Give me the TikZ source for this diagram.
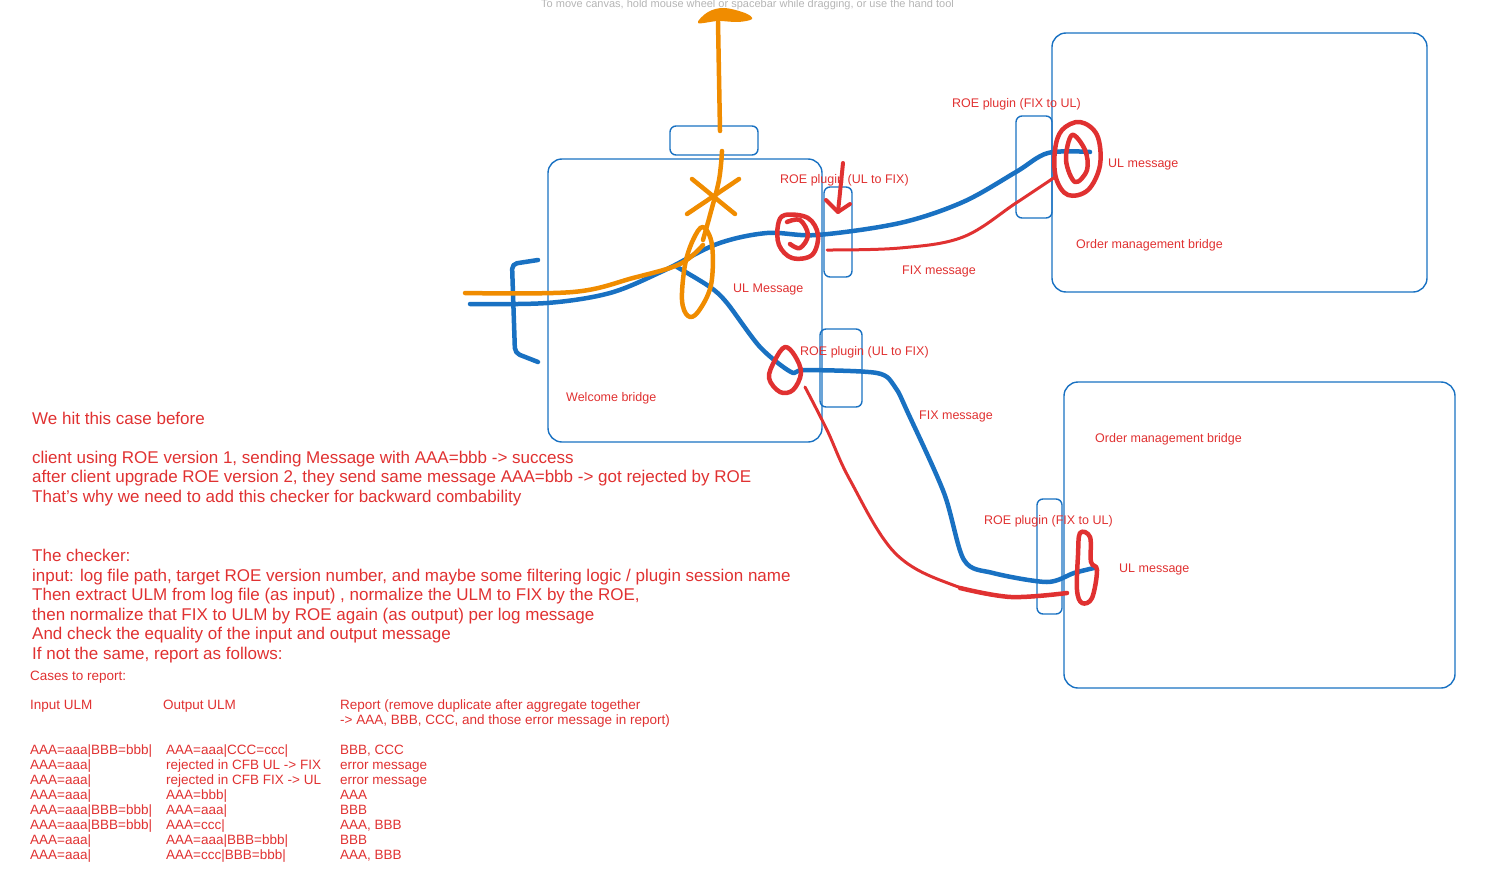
\documentclass[tikz,border=0pt]{standalone}
\usepackage{fontspec}
\setmainfont{Liberation Sans}
\definecolor{eblue}{HTML}{1971C2}
\definecolor{ered}{HTML}{E03131}
\definecolor{eorange}{HTML}{F08C00}
\definecolor{egrey}{HTML}{B5B5B5}
\begin{document}
\begin{tikzpicture}[x=1pt,y=-1pt,
  bigbox/.style={draw=eblue, line width=1.4pt, rounded corners=14pt, inner sep=0pt, outer sep=0pt},
  smallbox/.style={draw=eblue, line width=1.4pt, rounded corners=6pt, inner sep=0pt, outer sep=0pt},
  bstroke/.style={draw=eblue, line width=4.5pt, line cap=round, line join=round},
  ostroke/.style={draw=eorange, line width=4.5pt, line cap=round, line join=round},
  rstroke/.style={draw=ered, line width=4.5pt, line cap=round, line join=round},
  rthin/.style={draw=ered, line width=3pt, line cap=round, line join=round},
  lbl/.style={text=ered, font=\fontsize{12.5}{15}\selectfont, anchor=base west, inner sep=0pt},
  mtxt/.style={text=ered, font=\fontsize{17}{20}\selectfont, anchor=base west, inner sep=0pt},
  ttxt/.style={text=ered, font=\fontsize{13.5}{16}\selectfont, anchor=base west, inner sep=0pt}]
\useasboundingbox (0,0) rectangle (1503,872);

% hint text
\node[text=egrey, font=\fontsize{11}{13}\selectfont, anchor=base west, inner sep=0pt] (hint) at (541,8) {To move canvas, hold mouse wheel or spacebar while dragging, or use the hand tool};

% boxes
\node[bigbox, minimum width=274pt, minimum height=283pt] (wb) at (685,300.5) {};
\node[smallbox, minimum width=88pt, minimum height=29pt] (tb) at (714,140.5) {};
\node[smallbox, minimum width=28pt, minimum height=90pt] (p1) at (838,232) {};
\node[smallbox, minimum width=42pt, minimum height=78pt] (p2) at (841,368) {};
\node[bigbox, minimum width=375pt, minimum height=259pt] (omb1) at (1239.5,162.5) {};
\node[smallbox, minimum width=36pt, minimum height=102pt] (p3) at (1034,167) {};
\node[bigbox, minimum width=391pt, minimum height=306pt] (omb2) at (1259.5,535) {};
\node[smallbox, minimum width=25pt, minimum height=115pt] (p4) at (1049.5,556.5) {};

% blue bracket
\draw[bstroke, rounded corners=5pt] (538,260) -- (512,264) -- (515,353) -- (538,362);

% blue main line
\draw[bstroke] plot[smooth, tension=0.55] coordinates {(470,304) (547,303) (610,293) (663,271) (717,244) (767,233) (817,235) (900,223) (963,202) (1016,172) (1048,153) (1090,152)};
% blue branch
\draw[bstroke] plot[smooth, tension=0.5] coordinates {(677,267) (710,287) (727,303) (760,347) (791,372) (805,370) (877,373) (895,387) (908,413) (944,493) (964,560) (993,573) (1047,582) (1074,573) (1094,568)};

% red lines
\draw[rthin] plot[smooth, tension=0.6] coordinates {(827,250) (900,248) (963,237) (1016,203) (1055,177)};
\draw[rthin] plot[smooth, tension=0.6] coordinates {(805,387) (827,430) (850,480) (895,553) (953,585) (1011,597) (1067,593)};
\draw[rstroke] plot[smooth, tension=0.6] coordinates {(960,588) (1011,597) (1067,593)};

% orange
\draw[ostroke] plot[smooth, tension=0.6] coordinates {(465,293) (573,292) (633,278) (680,264) (703,245)};
\draw[ostroke] (718,22) -- (720,131);
\fill[eorange] plot[smooth cycle, tension=0.6] coordinates {(698,23) (708,12) (724,8) (745,13) (752,19) (738,22) (718,21)};
\draw[ostroke] plot[smooth, tension=0.6] coordinates {(722,151) (719,180) (710,215) (703,240)};
\draw[ostroke] plot[smooth cycle, tension=0.6] coordinates {(703,227) (712,245) (711,285) (698,312) (688,316) (682,300) (685,265) (693,240)};
\draw[ostroke] (692,179) -- (735,214);
\draw[ostroke] (739,179) -- (687,214);

% red scribbles
\draw[rstroke] plot[smooth cycle, tension=0.6] coordinates {(785,215) (808,218) (818,235) (812,255) (792,258) (779,245) (778,225)};
\draw[rstroke] plot[smooth, tension=0.6] coordinates {(787,222) (800,220) (808,235) (800,248) (790,244)};
\draw[rstroke] plot[smooth cycle, tension=0.6] coordinates {(785,347) (795,356) (801,373) (793,390) (780,392) (769,378) (775,360)};
\draw[rstroke] plot[smooth cycle, tension=0.6] coordinates {(1062,130) (1080,122) (1097,135) (1100,165) (1088,190) (1068,195) (1056,178) (1055,150)};
\draw[rstroke] plot[smooth cycle, tension=0.6] coordinates {(1072,135) (1085,150) (1087,170) (1075,182) (1066,160)};
\draw[rstroke] plot[smooth cycle, tension=0.6] coordinates {(1080,533) (1090,537) (1091,562) (1097,570) (1092,598) (1082,603) (1077,590) (1078,555)};
% red arrow
\draw[rstroke, line width=4pt] (843,163) -- (838,212);
\draw[rstroke, line width=4pt] (826,200) -- (838,212) -- (850,204);

% diagram labels
\node[lbl] (l1) at (780,183.5) {ROE plugin (UL to FIX)};
\node[lbl] (l2) at (733,292.5) {UL Message};
\node[lbl] (l3) at (566,401.5) {Welcome bridge};
\node[lbl] (l4) at (952,107.5) {ROE plugin (FIX to UL)};
\node[lbl] (l5) at (1108,167.5) {UL message};
\node[lbl] (l6) at (1076,248.5) {Order management bridge};
\node[lbl] (l7) at (902,274.5) {FIX message};
\node[lbl] (l8) at (800,355.5) {ROE plugin (UL to FIX)};
\node[lbl] (l9) at (919,419.5) {FIX message};
\node[lbl] (l10) at (1095,442.5) {Order management bridge};
\node[lbl] (l11) at (984,524.5) {ROE plugin (FIX to UL)};
\node[lbl] (l12) at (1119,572.5) {UL message};

% main text
\node[mtxt] (m1) at (32,424.5) {We hit this case before};
\node[mtxt] (m2) at (32,463.5) {client using ROE version 1, sending Message with AAA=bbb -> success};
\node[mtxt] (m3) at (32,482.5) {after client upgrade ROE version 2, they send same message AAA=bbb -> got rejected by ROE};
\node[mtxt] (m4) at (32,502.5) {That's why we need to add this checker for backward combability};
\node[mtxt] (m5) at (32,561.5) {The checker:};
\node[mtxt] (m6) at (32,581.5) {input: log file path, target ROE version number, and maybe some filtering logic / plugin session name};
\node[mtxt] (m7) at (32,600.5) {Then extract ULM from log file (as input) , normalize the ULM to FIX by the ROE,};
\node[mtxt] (m8) at (32,620.5) {then normalize that FIX to ULM by ROE again (as output) per log message};
\node[mtxt] (m9) at (32,639.5) {And check the equality of the input and output message};
\node[mtxt] (m10) at (32,659.5) {If not the same, report as follows:};
\node[ttxt] (m11) at (30,680.5) {Cases to report:};

% table
\node[ttxt] (h1) at (30,709.5) {Input ULM};
\node[ttxt] (h2) at (163,709.5) {Output ULM};
\node[ttxt] (h3) at (340,709.5) {Report (remove duplicate after aggregate together};
\node[ttxt] (h4) at (340,724.5) {-> AAA, BBB, CCC, and those error message in report)};

\node[ttxt] (a1) at (30,754.5) {AAA=aaa|BBB=bbb|};
\node[ttxt] (b1) at (166,754.5) {AAA=aaa|CCC=ccc|};
\node[ttxt] (c1) at (340,754.5) {BBB, CCC};
\node[ttxt] (a2) at (30,769.5) {AAA=aaa|};
\node[ttxt] (b2) at (166,769.5) {rejected in CFB UL -> FIX};
\node[ttxt] (c2) at (340,769.5) {error message};
\node[ttxt] (a3) at (30,784.5) {AAA=aaa|};
\node[ttxt] (b3) at (166,784.5) {rejected in CFB FIX -> UL};
\node[ttxt] (c3) at (340,784.5) {error message};
\node[ttxt] (a4) at (30,799.5) {AAA=aaa|};
\node[ttxt] (b4) at (166,799.5) {AAA=bbb|};
\node[ttxt] (c4) at (340,799.5) {AAA};
\node[ttxt] (a5) at (30,814.5) {AAA=aaa|BBB=bbb|};
\node[ttxt] (b5) at (166,814.5) {AAA=aaa|};
\node[ttxt] (c5) at (340,814.5) {BBB};
\node[ttxt] (a6) at (30,829.5) {AAA=aaa|BBB=bbb|};
\node[ttxt] (b6) at (166,829.5) {AAA=ccc|};
\node[ttxt] (c6) at (340,829.5) {AAA, BBB};
\node[ttxt] (a7) at (30,844.5) {AAA=aaa|};
\node[ttxt] (b7) at (166,844.5) {AAA=aaa|BBB=bbb|};
\node[ttxt] (c7) at (340,844.5) {BBB};
\node[ttxt] (a8) at (30,859.5) {AAA=aaa|};
\node[ttxt] (b8) at (166,859.5) {AAA=ccc|BBB=bbb|};
\node[ttxt] (c8) at (340,859.5) {AAA, BBB};
\end{tikzpicture}
\end{document}
